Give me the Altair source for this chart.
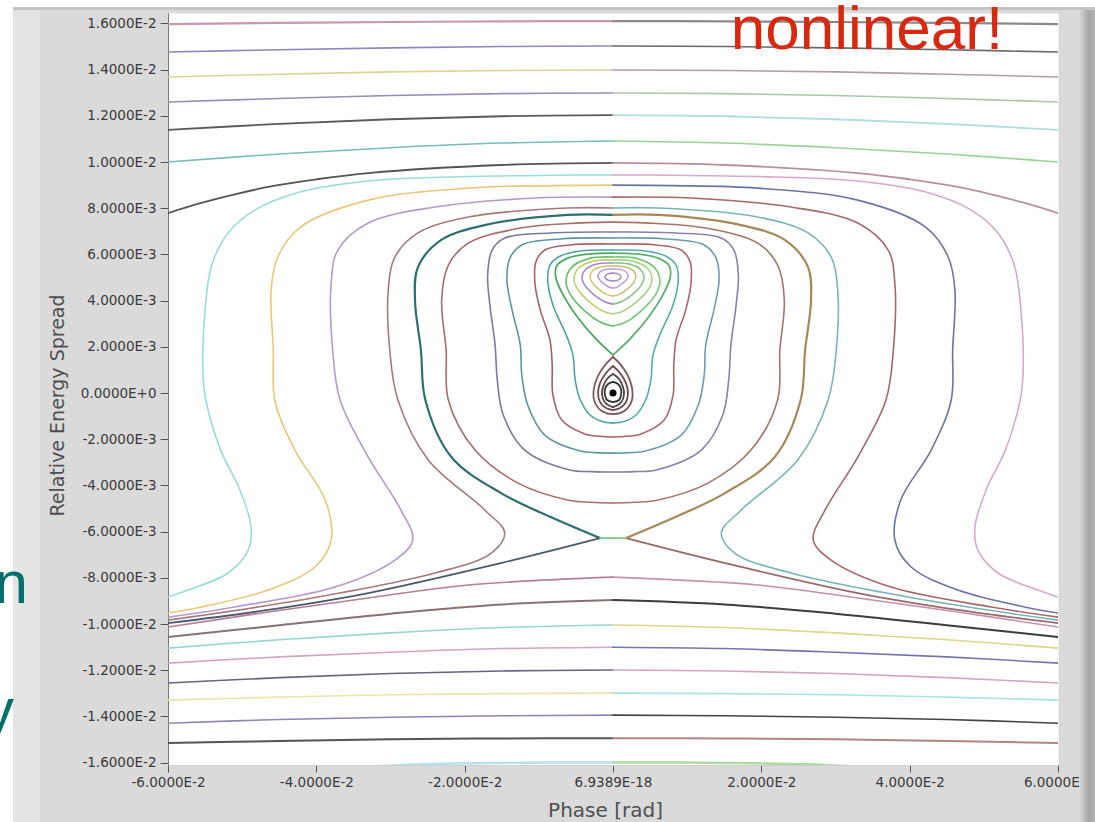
import altair as alt
import pandas as pd

# ---------------- axis ticks and labels ----------------
X_TICKS = [-0.06, -0.04, -0.02, 0.0, 0.02, 0.04, 0.06]
X_TICK_LABELS = ["-6.0000E-2", "-4.0000E-2", "-2.0000E-2", "6.9389E-18",
                 "2.0000E-2", "4.0000E-2", "6.0000E-2"]
Y_TICKS = [-0.016, -0.014, -0.012, -0.01, -0.008, -0.006, -0.004, -0.002, 0.0,
           0.002, 0.004, 0.006, 0.008, 0.01, 0.012, 0.014, 0.016]
Y_TICK_LABELS = ["-1.6000E-2", "-1.4000E-2", "-1.2000E-2", "-1.0000E-2", "-8.0000E-3",
                 "-6.0000E-3", "-4.0000E-3", "-2.0000E-3", "0.0000E+0", "2.0000E-3",
                 "4.0000E-3", "6.0000E-3", "8.0000E-3", "1.0000E-2", "1.2000E-2",
                 "1.4000E-2", "1.6000E-2"]

# ---------------- trajectories: left half (phase in mrad, spread in 1e-3) ----------------
# the right half of every trajectory is its mirror image (drawn in another colour)
top_1 = [(-60.0, 15.97), (-45.0, 16.02), (-30.0, 16.06), (-15.0, 16.09), (0.0, 16.10)]
top_2 = [(-60.0, 14.76), (-45.0, 14.86), (-30.0, 14.94), (-15.0, 15.00), (0.0, 15.02)]
top_3 = [(-60.0, 13.68), (-45.0, 13.80), (-30.0, 13.90), (-15.0, 13.96), (0.0, 13.98)]
top_4 = [(-60.0, 12.60), (-45.0, 12.75), (-30.0, 12.88), (-15.0, 12.96), (0.0, 12.99)]
top_5 = [(-60.0, 11.39), (-45.0, 11.65), (-30.0, 11.85), (-15.0, 11.98), (0.0, 12.03)]
top_6 = [(-60.0, 10.00), (-45.0, 10.35), (-30.0, 10.62), (-15.0, 10.82), (0.0, 10.91)]
top_7 = [(-60.0, 7.79), (-55.5, 8.23), (-51.0, 8.60), (-46.5, 8.92), (-40.0, 9.25),
         (-33.0, 9.52), (-15.1, 9.87), (0.0, 9.96)]

outer_cyan = [(0.0, 9.44), (-8.0, 9.43), (-22.0, 9.35), (-33.0, 9.18), (-42.2, 8.70),
              (-48.3, 7.92), (-51.9, 6.93), (-54.1, 5.54), (-55.0, 3.59), (-55.3, 1.00),
              (-54.9, -0.30), (-52.9, -2.47), (-50.3, -4.20), (-48.8, -5.80), (-49.2, -6.80),
              (-51.9, -7.79), (-57.3, -8.53), (-60.0, -8.83)]
outer_yellow = [(0.0, 9.00), (-8.0, 8.98), (-19.5, 8.87), (-33.0, 8.35), (-42.1, 7.19),
                (-45.2, 5.89), (-46.1, 4.46), (-45.8, 1.86), (-45.6, -0.30), (-42.9, -2.47),
                (-38.8, -4.63), (-38.0, -6.36), (-40.2, -7.53), (-46.5, -8.53), (-55.5, -9.26),
                (-60.0, -9.52)]
outer_purple = [(0.0, 8.48), (-10.5, 8.44), (-24.0, 8.05), (-33.0, 7.36), (-37.1, 6.19),
                (-38.0, 4.76), (-37.8, 1.86), (-36.8, -0.30), (-33.0, -2.77), (-28.6, -5.06),
                (-27.0, -6.36), (-29.4, -7.23), (-37.5, -8.40), (-51.0, -9.26), (-60.0, -9.70)]
outer_mauve = [(0.0, 8.01), (-6.1, 8.01), (-19.5, 7.62), (-26.3, 6.93), (-29.4, 5.89),
               (-30.3, 4.46), (-30.1, 1.86), (-29.0, -0.30), (-24.9, -2.90), (-17.3, -5.06),
               (-14.6, -6.06), (-16.4, -6.93), (-24.0, -7.79), (-42.1, -8.96), (-60.0, -9.83)]

sep_upper = [(0.0, 7.71), (-6.1, 7.71), (-17.3, 7.27), (-23.2, 6.62), (-26.3, 5.45),
             (-26.7, 4.03), (-25.9, 1.86), (-25.3, -0.30), (-21.8, -2.77), (-15.1, -4.33),
             (-8.4, -5.37), (-1.75, -6.28)]
sep_lower = [(-1.75, -6.28), (-15.1, -7.36), (-33.0, -8.66), (-46.5, -9.39), (-60.0, -9.96)]
sep_link = [(-1.75, -6.28), (0.0, -6.28)]

ring_e = [(0.0, 7.40), (-6.0, 7.34), (-12.5, 7.14), (-19.5, 6.49), (-22.2, 5.54), (-23.1, 4.03),
          (-22.5, 1.86), (-22.2, -0.30), (-18.6, -2.47), (-12.8, -3.90), (-6.1, -4.63),
          (-3.0, -4.73), (0.0, -4.76)]
ring_d = [(0.0, 6.97), (-8.5, 6.93), (-14.6, 6.71), (-16.3, 6.19), (-16.9, 5.11), (-16.6, 3.81),
          (-15.9, 2.08), (-15.6, 0.56), (-14.8, -0.95), (-11.9, -2.47), (-5.8, -3.33),
          (-2.8, -3.40), (0.0, -3.42)]
ring_c = [(0.0, 6.71), (-7.1, 6.67), (-12.3, 6.41), (-13.9, 5.84), (-14.3, 4.89), (-13.6, 3.59),
          (-12.5, 2.08), (-12.3, 0.78), (-11.5, -0.52), (-9.2, -1.82), (-4.4, -2.51),
          (-2.2, -2.58), (0.0, -2.60)]
ring_b = [(0.0, 6.45), (-5.8, 6.41), (-9.2, 6.19), (-10.4, 5.67), (-10.5, 4.68), (-9.8, 3.59),
          (-8.5, 2.29), (-8.2, 1.21), (-8.1, -0.09), (-6.9, -1.17), (-3.8, -1.77),
          (-1.8, -1.87), (0.0, -1.90)]
ring_a = [(0.0, 6.19), (-4.4, 6.15), (-7.1, 5.93), (-8.5, 5.54), (-8.8, 4.89), (-8.1, 3.81),
          (-6.3, 2.51), (-5.4, 1.65), (-5.1, 0.56), (-4.4, -0.30), (-3.1, -0.95),
          (-1.6, -1.22), (0.0, -1.30)]

lobe = [(0.0, 6.06), (-3.1, 6.02), (-6.1, 5.84), (-7.6, 5.50), (-7.7, 4.98), (-6.7, 4.24),
        (-4.7, 3.25), (-2.4, 2.38), (0.0, 1.65)]
isl_6 = [(0.0, 5.89), (-3.17, 5.83), (-5.58, 5.44), (-6.34, 4.84), (-5.70, 4.24), (-3.80, 3.56),
         (-1.59, 3.05), (0.0, 2.90)]
isl_5 = [(0.0, 5.76), (-2.63, 5.71), (-4.62, 5.41), (-5.26, 4.94), (-4.73, 4.47), (-3.15, 3.94),
         (-1.31, 3.54), (0.0, 3.42)]
isl_4 = [(0.0, 5.63), (-2.09, 5.59), (-3.68, 5.36), (-4.18, 5.00), (-3.76, 4.65), (-2.51, 4.24),
         (-1.04, 3.94), (0.0, 3.85)]
isl_3 = [(0.0, 5.50), (-1.55, 5.47), (-2.73, 5.30), (-3.10, 5.04), (-2.79, 4.78), (-1.86, 4.48),
         (-0.78, 4.26), (0.0, 4.20)]
isl_2 = [(0.0, 5.37), (-1.01, 5.35), (-1.78, 5.24), (-2.02, 5.08), (-1.82, 4.91), (-1.21, 4.73),
         (-0.51, 4.58), (0.0, 4.55)]
isl_1 = [(0.0, 5.19), (-0.54, 5.17), (-0.94, 5.11), (-1.08, 5.02), (-0.94, 4.94), (-0.54, 4.87),
         (0.0, 4.85)]

drop_1 = [(0.0, 1.56), (-1.08, 1.21), (-2.02, 0.74), (-2.56, 0.22), (-2.56, -0.30), (-1.89, -0.69),
          (-0.94, -0.87), (0.0, -0.91)]
drop_2 = [(0.0, 1.17), (-0.94, 0.87), (-1.75, 0.43), (-2.02, 0.0), (-1.75, -0.39), (-0.94, -0.65),
          (0.0, -0.74)]
drop_3 = [(0.0, 0.82), (-0.81, 0.61), (-1.35, 0.26), (-1.48, -0.04), (-1.21, -0.35), (-0.67, -0.52),
          (0.0, -0.61)]
drop_4 = [(0.0, 0.48), (-0.67, 0.39), (-1.08, 0.17), (-1.08, -0.09), (-0.81, -0.30), (0.0, -0.39)]

bot_1 = [(-60.0, -10.13), (-46.5, -9.48), (-33.0, -8.87), (-19.5, -8.31), (0.0, -7.97)]
bot_2 = [(-60.0, -10.56), (-45.0, -10.05), (-30.0, -9.55), (-15.0, -9.15), (0.0, -8.96)]
bot_3 = [(-60.0, -11.04), (-45.0, -10.68), (-30.0, -10.38), (-15.0, -10.15), (0.0, -10.04)]
bot_4 = [(-60.0, -11.69), (-45.0, -11.42), (-30.0, -11.22), (-15.0, -11.06), (0.0, -11.00)]
bot_5 = [(-60.0, -12.55), (-45.0, -12.32), (-30.0, -12.14), (-15.0, -12.03), (0.0, -11.99)]
bot_6 = [(-60.0, -13.29), (-45.0, -13.16), (-30.0, -13.06), (-15.0, -13.01), (0.0, -12.99)]
bot_7 = [(-60.0, -14.29), (-45.0, -14.13), (-30.0, -14.03), (-15.0, -13.97), (0.0, -13.94)]
bot_8 = [(-60.0, -15.15), (-45.0, -15.06), (-30.0, -14.99), (-15.0, -14.95), (0.0, -14.94)]
bot_9 = [(-60.0, -16.60), (-40.0, -16.30), (-27.0, -16.08), (-15.0, -16.01), (0.0, -15.99)]

CURVES = {
    "top_1": top_1, "top_2": top_2, "top_3": top_3, "top_4": top_4, "top_5": top_5,
    "top_6": top_6, "top_7": top_7,
    "outer_cyan": outer_cyan, "outer_yellow": outer_yellow, "outer_purple": outer_purple,
    "outer_mauve": outer_mauve,
    "bot_1": bot_1, "bot_2": bot_2, "bot_3": bot_3, "bot_4": bot_4, "bot_5": bot_5,
    "bot_6": bot_6, "bot_7": bot_7, "bot_8": bot_8, "bot_9": bot_9,
    "sep_lower": sep_lower,
    "ring_e": ring_e, "ring_d": ring_d, "ring_c": ring_c, "ring_b": ring_b, "ring_a": ring_a,
    "sep_upper": sep_upper, "sep_link": sep_link,
    "lobe": lobe, "isl_6": isl_6, "isl_5": isl_5, "isl_4": isl_4, "isl_3": isl_3,
    "isl_2": isl_2, "isl_1": isl_1,
    "drop_1": drop_1, "drop_2": drop_2, "drop_3": drop_3, "drop_4": drop_4,
}

# ---------------- styles: (left colour, right colour, width) ----------------
STYLE = {
    "top_1": ("#c898b0", "#8a8a8a", 2.2), "top_2": ("#8c88c0", "#6a6a6a", 1.6),
    "top_3": ("#e2d298", "#b89aa8", 1.6), "top_4": ("#9a8cb8", "#a8c8a8", 1.6),
    "top_5": ("#5a5a5a", "#b0dce4", 1.8), "top_6": ("#78bcbc", "#98d498", 1.6),
    "top_7": ("#555555", "#b890a0", 1.8),
    "outer_cyan": ("#98dcdc", "#d8a8cc", 1.6), "outer_yellow": ("#e8c878", "#6c74a4", 1.6),
    "outer_purple": ("#b898cc", "#a86868", 1.6), "outer_mauve": ("#a87878", "#78b4bc", 1.6),
    "sep_upper": ("#2e6e70", "#a88858", 2.2), "sep_lower": ("#4a5a6a", "#9a6868", 1.8),
    "sep_link": ("#80c888", "#80c888", 1.6),
    "ring_e": ("#a86c6c", "#a87468", 1.6), "ring_d": ("#787c9c", "#8c80ac", 1.6),
    "ring_c": ("#5c94a4", "#6c9cb4", 1.6), "ring_b": ("#a46464", "#ac6868", 1.6),
    "ring_a": ("#4ca4a4", "#58acac", 1.6),
    "lobe": ("#4aa860", "#5cb06c", 1.8), "isl_6": ("#64c064", "#78c878", 1.6),
    "isl_5": ("#c4d070", "#a8d488", 1.6), "isl_4": ("#a888c8", "#88c488", 1.6),
    "isl_3": ("#d8c468", "#ccbc78", 1.6), "isl_2": ("#b89ad4", "#c4a6d4", 1.6),
    "isl_1": ("#a888cc", "#b090d0", 1.6),
    "drop_1": ("#8a5a5a", "#7e5656", 1.8), "drop_2": ("#6c4c4c", "#684848", 1.8),
    "drop_3": ("#524444", "#4c4040", 1.8), "drop_4": ("#333333", "#333333", 1.8),
    "bot_1": ("#b87c98", "#c490ac", 1.6), "bot_2": ("#8c7070", "#3c3c3c", 2.0),
    "bot_3": ("#98d4d4", "#e4d488", 1.6), "bot_4": ("#d4a4c4", "#7474ac", 1.6),
    "bot_5": ("#646484", "#d4a4c4", 1.6), "bot_6": ("#ece4a8", "#a8e4e4", 1.6),
    "bot_7": ("#9484b4", "#444444", 1.6), "bot_8": ("#555555", "#b48484", 2.0),
    "bot_9": ("#b8e0ea", "#acdca4", 2.5),
}

rows = []
for name, pts in CURVES.items():
    cl, cr, w = STYLE[name]
    for side, sign, col in (("L", 1.0, cl), ("R", -1.0, cr)):
        for i, (ph, de) in enumerate(pts):
            rows.append({"sid": f"{name}_{side}", "phase": sign * ph * 1e-3,
                         "spread": de * 1e-3, "i": i, "col": col, "w": w})
df = pd.DataFrame(rows)
centre = pd.DataFrame({"phase": [0.0], "spread": [0.0]})
one = pd.DataFrame({"k": [0]})


def label_expr(ticks, labels):
    expr = f"'{labels[-1]}'"
    for k in reversed(range(len(ticks) - 1)):
        mid = (ticks[k] + ticks[k + 1]) / 2
        expr = f"datum.value < {mid} ? '{labels[k]}' : ({expr})"
    return expr


LABEL_FONT = "DejaVu Sans"
xscale = alt.Scale(domain=[-0.06, 0.06], nice=False, zero=False)
yscale = alt.Scale(domain=[-0.0161, 0.01645], nice=False, zero=False)

x_axis = alt.Axis(values=X_TICKS, labelExpr=label_expr(X_TICKS, X_TICK_LABELS),
                  title="Phase [rad]", titleFont=LABEL_FONT, titleFontSize=20,
                  titleFontWeight="normal", titleColor="#505050", titleX=437, titleY=51,
                  titleAlign="center", titleBaseline="alphabetic",
                  labelFont=LABEL_FONT, labelFontSize=13.5, labelColor="#3a3a3a",
                  labelPadding=3, tickSize=7, tickColor="#555555", domainColor="#cfcfcf",
                  grid=False, labelFlush=False, labelOverlap=False)
y_axis = alt.Axis(values=Y_TICKS, labelExpr=label_expr(Y_TICKS, Y_TICK_LABELS),
                  title="Relative Energy Spread", titleFont=LABEL_FONT, titleFontSize=19,
                  titleFontWeight="normal", titleColor="#505050", titleX=-111, titleY=392,
                  titleAlign="center", titleBaseline="middle",
                  labelFont=LABEL_FONT, labelFontSize=13.5, labelColor="#3a3a3a",
                  labelPadding=4, tickSize=8, tickColor="#555555", domainColor="#777777",
                  grid=False, labelFlush=False, labelOverlap=False)

lines = alt.Chart(df).mark_line(clip=True, interpolate="catmull-rom",
                                strokeCap="round", strokeJoin="round").encode(
    x=alt.X("phase:Q", scale=xscale, axis=x_axis),
    y=alt.Y("spread:Q", scale=yscale, axis=y_axis),
    detail="sid:N",
    order="i:Q",
    color=alt.Color("col:N", scale=None),
    strokeWidth=alt.StrokeWidth("w:Q", scale=None),
)

ring = alt.Chart(centre).mark_point(filled=False, size=130, color="white", strokeWidth=2.2,
                                    opacity=1).encode(
    x=alt.X("phase:Q", scale=xscale), y=alt.Y("spread:Q", scale=yscale))
dot = alt.Chart(centre).mark_point(filled=True, size=50, color="black", opacity=1).encode(
    x=alt.X("phase:Q", scale=xscale), y=alt.Y("spread:Q", scale=yscale))

# screenshot frame decorations (pixel positions relative to the plot origin)
white_left = alt.Chart(one).mark_rect(color="white").encode(
    x=alt.value(-168), x2=alt.value(-155), y=alt.value(-13), y2=alt.value(809))
light_left = alt.Chart(one).mark_rect(color="#e4e4e4").encode(
    x=alt.value(-155), x2=alt.value(-128), y=alt.value(-3), y2=alt.value(809))
white_top = alt.Chart(one).mark_rect(color="white").encode(
    x=alt.value(-168), x2=alt.value(927), y=alt.value(-13), y2=alt.value(-6))
top_edge = alt.Chart(one).mark_rect(color="#c4c4c4").encode(
    x=alt.value(-155), x2=alt.value(927), y=alt.value(-6), y2=alt.value(-3))
scroll = alt.Chart(one).mark_rect(
    color=alt.Gradient(gradient="linear",
                       stops=[alt.GradientStop(offset=0, color="#d4d4d4"),
                              alt.GradientStop(offset=0.6, color="#a4a4a4"),
                              alt.GradientStop(offset=1, color="#b4b4b4")],
                       x1=0, x2=1, y1=0, y2=0)).encode(
    x=alt.value(912), x2=alt.value(927), y=alt.value(-3), y2=alt.value(809))

red_text = alt.Chart(one).mark_text(text="nonlinear!", font="Liberation Sans", fontSize=62,
                                    color="#d8280f", align="center",
                                    baseline="alphabetic").encode(
    x=alt.value(699), y=alt.value(36))
teal_on = alt.Chart(one).mark_text(text="on", font="Liberation Sans", fontSize=60,
                                   color="#00706c", align="right",
                                   baseline="alphabetic").encode(
    x=alt.value(-140), y=alt.value(590))
teal_y = alt.Chart(one).mark_text(text="y", font="Liberation Sans", fontSize=60,
                                  color="#00706c", align="right",
                                  baseline="alphabetic").encode(
    x=alt.value(-154), y=alt.value(717))

chart = alt.layer(
    lines, ring, dot, white_left, light_left, white_top, top_edge, scroll,
    red_text, teal_on, teal_y
).properties(
    width=890, height=752,
    padding={"left": 168, "top": 13, "right": 37, "bottom": 57},
    autosize=alt.AutoSizeParams(type="none"),
    background="#dadada",
).configure_view(fill="white", stroke="transparent")

chart.save("out.html", embed_options={"renderer": "svg", "actions": False})
